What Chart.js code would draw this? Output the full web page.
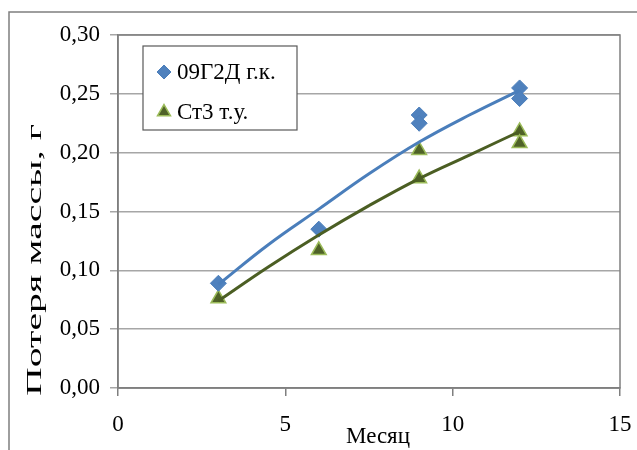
<!DOCTYPE html>
<html>
<head>
<meta charset="utf-8">
<script src="https://cdn.jsdelivr.net/npm/chart.js@4/dist/chart.umd.min.js"></script>
<style>
html,body{margin:0;padding:0;background:#fff;}
#wrap{position:relative;width:637px;height:450px;}
canvas{display:block;}
</style>
</head>
<body>
<div id="wrap"><canvas id="c" width="637" height="450"></canvas></div>
<script>
// ---- data ----
const seriesNames = ['09Г2Д г.к.', 'Ст3 т.у.'];
const xTitle = 'Месяц';
const yTitle = 'Потеря массы, г';

const blueMonths = [3, 6, 9, 9, 12, 12];
const blueLoss   = [0.089, 0.135, 0.232, 0.225, 0.255, 0.246];
const greenMonths = [3, 6, 9, 9, 12, 12];
const greenLoss   = [0.076, 0.117, 0.202, 0.178, 0.218, 0.208];

// trend lines
const trendMonths = [3, 4.5, 6, 7.5, 9, 10.5, 12];
const blueTrend   = [0.088, 0.122, 0.152, 0.182, 0.209, 0.232, 0.253];
const greenTrend  = [0.074, 0.103, 0.130, 0.155, 0.178, 0.198, 0.218];

const xTicks = [0, 5, 10, 15];
const yTicks = [0, 0.05, 0.10, 0.15, 0.20, 0.25, 0.30];

const pts = (xs, ys) => xs.map((x, i) => ({x: x, y: ys[i]}));
const FONT = "'Liberation Serif', 'Times New Roman', serif";

const blueStyle = {pointStyle: 'rectRot', radius: 8, backgroundColor: '#4F81BD', borderColor: '#4A7EBB', borderWidth: 1};
const greenStyle = {pointStyle: 'triangle', radius: 8.5, backgroundColor: '#4F6228', borderColor: '#9BBB59', borderWidth: 1.5};

const framePlugin = {
  id: 'frame',
  beforeDraw(chart) {
    const ctx = chart.ctx;
    ctx.save();
    ctx.fillStyle = '#fff';
    ctx.fillRect(0, 0, chart.width, chart.height);
    ctx.strokeStyle = '#7f7f7f';
    ctx.lineWidth = 1.5;
    ctx.beginPath();
    ctx.moveTo(9, 450);
    ctx.lineTo(9, 12);
    ctx.lineTo(637, 12);
    ctx.stroke();
    ctx.restore();
  },
  afterDatasetsDraw(chart) {
    const ctx = chart.ctx;
    const a = chart.chartArea;
    ctx.save();
    ctx.strokeStyle = '#7f7f7f';
    ctx.lineWidth = 1.5;
    ctx.strokeRect(a.left, a.top, a.right - a.left, a.bottom - a.top);
    ctx.restore();
  },
  afterDraw(chart) {
    const ctx = chart.ctx;
    ctx.save();
    const lx = 143, ly = 46, lw = 154, lh = 84;
    ctx.fillStyle = '#fff';
    ctx.fillRect(lx, ly, lw, lh);
    ctx.strokeStyle = '#595959';
    ctx.lineWidth = 1.2;
    ctx.strokeRect(lx, ly, lw, lh);
    const styles = [blueStyle, greenStyle];
    const rows = [72, 112];
    ctx.font = '23px ' + FONT;
    ctx.textBaseline = 'middle';
    ctx.textAlign = 'left';
    for (let i = 0; i < 2; i++) {
      const s = styles[i];
      ctx.fillStyle = s.backgroundColor;
      ctx.strokeStyle = s.borderColor;
      ctx.lineWidth = s.borderWidth;
      Chart.helpers.drawPoint(ctx, {pointStyle: s.pointStyle, radius: s.radius - 1, borderWidth: s.borderWidth, rotation: 0}, 164, rows[i]);
      ctx.fillStyle = '#000';
      ctx.fillText(seriesNames[i], 177, rows[i] + 1);
    }
    ctx.fillStyle = '#000';
    ctx.textAlign = 'center';
    ctx.textBaseline = 'middle';
    ctx.font = '23px ' + FONT;
    ctx.fillText(xTitle, 378, 437);
    ctx.save();
    ctx.translate(35, 260);
    ctx.rotate(-Math.PI / 2);
    ctx.font = '21px ' + FONT;
    const w = ctx.measureText(yTitle).width;
    ctx.scale(272 / w, 1);
    ctx.fillText(yTitle, 0, 0);
    ctx.restore();
    ctx.restore();
  }
};

new Chart(document.getElementById('c'), {
  type: 'scatter',
  data: {
    datasets: [
      {type: 'line', label: seriesNames[0] + ' trend', data: pts(trendMonths, blueTrend), borderColor: '#4A7EBB', borderWidth: 3, pointRadius: 0, tension: 0.4, fill: false, order: 0},
      {type: 'line', label: seriesNames[1] + ' trend', data: pts(trendMonths, greenTrend), borderColor: '#4B5E23', borderWidth: 3, pointRadius: 0, tension: 0.4, fill: false, order: 0},
      {label: seriesNames[0], data: pts(blueMonths, blueLoss), pointStyle: blueStyle.pointStyle, pointRadius: blueStyle.radius, backgroundColor: blueStyle.backgroundColor, borderColor: blueStyle.borderColor, borderWidth: blueStyle.borderWidth, order: 1},
      {label: seriesNames[1], data: pts(greenMonths, greenLoss), pointStyle: greenStyle.pointStyle, pointRadius: greenStyle.radius, backgroundColor: greenStyle.backgroundColor, borderColor: greenStyle.borderColor, borderWidth: greenStyle.borderWidth, order: 1}
    ]
  },
  options: {
    responsive: false,
    animation: false,
    events: [],
    layout: {padding: {left: 0, top: 35, right: 17, bottom: 0}},
    plugins: {legend: {display: false}, tooltip: {enabled: false}},
    scales: {
      x: {
        type: 'linear', min: 0, max: 15,
        afterBuildTicks(s) { s.ticks = xTicks.map(v => ({value: v})); },
        afterFit(s) { s.height = 62; s.paddingLeft = 0; s.paddingRight = 0; },
        grid: {drawOnChartArea: false, drawTicks: true, tickLength: 8, color: '#7f7f7f', lineWidth: 1.5},
        border: {display: true, color: '#7f7f7f', width: 1.5},
        ticks: {font: {family: FONT, size: 23}, color: '#000', padding: 15, maxRotation: 0}
      },
      y: {
        type: 'linear', min: 0, max: 0.3,
        afterBuildTicks(s) { s.ticks = yTicks.map(v => ({value: v})); },
        afterFit(s) { s.width = 118; s.paddingTop = 0; s.paddingBottom = 0; },
        grid: {drawOnChartArea: true, drawTicks: true, tickLength: 8, color: '#a6a6a6', lineWidth: 1.5},
        border: {display: true, color: '#7f7f7f', width: 1.5},
        ticks: {font: {family: FONT, size: 23}, color: '#000', padding: 10,
          callback: v => v.toFixed(2).replace('.', ',')}
      }
    }
  },
  plugins: [framePlugin]
});
</script>
</body>
</html>
